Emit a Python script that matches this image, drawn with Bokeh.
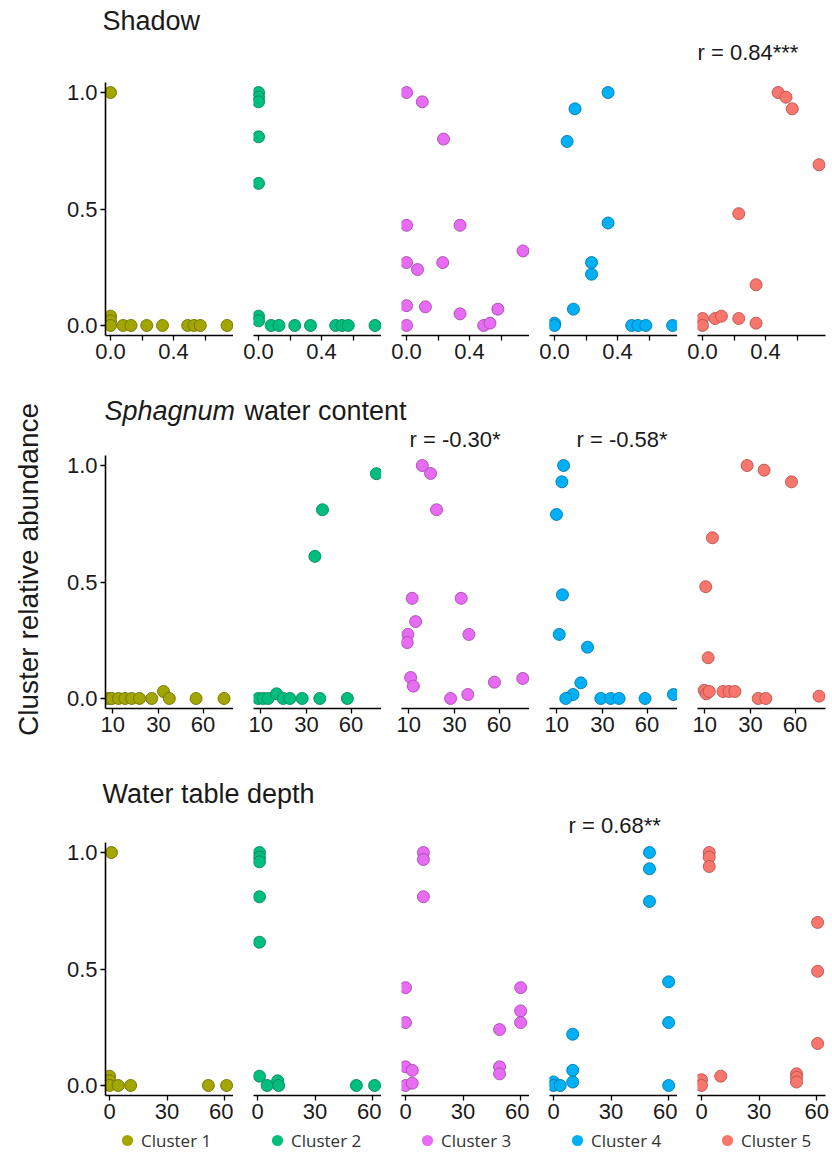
import numpy as np
from bokeh.plotting import figure
from bokeh.layouts import column, row
from bokeh.models import (ColumnDataSource, Range1d, FixedTicker,
                          CustomJSTickFormatter, Label, Legend, LegendItem)
from bokeh.embed import file_html
from bokeh.resources import INLINE

# ---------------- data ----------------
clusters = ["Cluster 1", "Cluster 2", "Cluster 3", "Cluster 4", "Cluster 5"]
y_ticks = [0.0, 0.5, 1.0]
y_tick_labels = ["0.0", "0.5", "1.0"]
shadow_ticks = [0.0, 0.2, 0.4, 0.6]
shadow_tick_labels = ["0.0", "", "0.4", ""]
water_ticks = [10, 30, 60]
water_tick_labels = ["10", "30", "60"]
wtd_ticks = [0, 30, 60]
wtd_tick_labels = ["0", "30", "60"]

# Shadow (fraction)
shadow_c1_x = [0.0, 0.0, 0.0, 0.0, 0.08, 0.13, 0.23, 0.33, 0.49, 0.53, 0.57, 0.74]
shadow_c1_y = [1.0, 0.04, 0.02, 0.0, 0.0, 0.0, 0.0, 0.0, 0.0, 0.0, 0.0, 0.0]
shadow_c2_x = [0.0, 0.0, 0.0, 0.0, 0.0, 0.0, 0.0, 0.08, 0.13, 0.23, 0.33, 0.49, 0.53, 0.57, 0.74]
shadow_c2_y = [1.0, 0.98, 0.96, 0.81, 0.61, 0.04, 0.02, 0.0, 0.0, 0.0, 0.0, 0.0, 0.0, 0.0, 0.0]
shadow_c3_x = [0.0, 0.10, 0.235, 0.0, 0.34, 0.74, 0.0, 0.07, 0.23, 0.0, 0.12, 0.34, 0.49, 0.53, 0.58, 0.0]
shadow_c3_y = [1.0, 0.96, 0.80, 0.43, 0.43, 0.32, 0.27, 0.24, 0.27, 0.085, 0.08, 0.05, 0.0, 0.01, 0.07, 0.0]
shadow_c4_x = [0.34, 0.13, 0.08, 0.34, 0.235, 0.235, 0.12, 0.0, 0.0, 0.49, 0.53, 0.58, 0.75]
shadow_c4_y = [1.0, 0.93, 0.79, 0.44, 0.27, 0.22, 0.07, 0.01, 0.0, 0.0, 0.0, 0.0, 0.0]
shadow_c5_x = [0.48, 0.53, 0.57, 0.74, 0.23, 0.34, 0.0, 0.0, 0.08, 0.12, 0.23, 0.34]
shadow_c5_y = [1.0, 0.98, 0.93, 0.69, 0.48, 0.175, 0.03, 0.0, 0.03, 0.04, 0.03, 0.01]

# Sphagnum water content (%)
water_c1_x = [8.7, 9.7, 11.9, 14.3, 17.0, 20.4, 26.4, 32.9, 36.4, 54.6, 77.6]
water_c1_y = [0.0, 0.0, 0.0, 0.0, 0.0, 0.0, 0.0, 0.03, 0.0, 0.0, 0.0]
water_c2_x = [9.2, 10.8, 12.5, 15.7, 18.5, 21.5, 27.7, 37.9, 57.1, 34.9, 39.6, 81.6]
water_c2_y = [0.0, 0.0, 0.0, 0.02, 0.0, 0.0, 0.0, 0.0, 0.0, 0.61, 0.81, 0.965]
water_c3_x = [14.8, 18.2, 20.9, 11.1, 33.9, 12.3, 9.7, 9.5, 38.6, 10.6, 11.5, 27.9, 37.9, 56.4, 80.1]
water_c3_y = [1.0, 0.966, 0.81, 0.43, 0.43, 0.33, 0.275, 0.24, 0.275, 0.09, 0.053, 0.0, 0.017, 0.07, 0.086]
water_c4_x = [12.3, 11.7, 9.9, 11.9, 10.8, 22.3, 19.2, 15.9, 13.1, 29.1, 34.8, 40.0, 58.4, 82.5]
water_c4_y = [1.0, 0.93, 0.79, 0.445, 0.275, 0.22, 0.067, 0.017, 0.0, 0.0, 0.0, 0.0, 0.0, 0.017]
water_c5_x = [28.2, 38.1, 57.2, 12.6, 10.3, 11.1, 9.8, 10.5, 11.5, 16.7, 19.3, 22.0, 34.5, 39.2, 80.3]
water_c5_y = [1.0, 0.98, 0.93, 0.69, 0.48, 0.175, 0.035, 0.02, 0.03, 0.03, 0.03, 0.03, 0.0, 0.0, 0.01]

# Water table depth (cm)
wtd_c1_x = [1.0, 0.0, 0.0, 0.0, 4.5, 11.0, 51.5, 61.0]
wtd_c1_y = [1.0, 0.04, 0.02, 0.0, 0.0, 0.0, 0.0, 0.0]
wtd_c2_x = [1.0, 1.0, 1.0, 1.0, 1.0, 1.0, 5.0, 10.5, 11.0, 51.5, 61.0]
wtd_c2_y = [1.0, 0.98, 0.96, 0.81, 0.615, 0.04, 0.0, 0.02, 0.0, 0.0, 0.0]
wtd_c3_x = [0.0, 0.0, 0.0, 3.5, 0.0, 3.5, 9.3, 9.3, 9.3, 49.0, 49.0, 49.0, 60.0, 60.0, 60.0]
wtd_c3_y = [0.42, 0.27, 0.08, 0.065, 0.0, 0.01, 1.0, 0.97, 0.81, 0.24, 0.08, 0.05, 0.42, 0.32, 0.27]
wtd_c4_x = [50.0, 50.0, 50.0, 60.0, 60.0, 60.0, 10.0, 10.0, 10.0, 0.0, 0.0, 3.5]
wtd_c4_y = [1.0, 0.93, 0.79, 0.445, 0.27, 0.0, 0.22, 0.065, 0.015, 0.015, 0.0, 0.0]
wtd_c5_x = [4.0, 4.0, 4.0, 60.5, 60.5, 60.5, 10.0, 0.0, 0.0, 49.5, 49.5, 49.5]
wtd_c5_y = [1.0, 0.98, 0.94, 0.70, 0.49, 0.18, 0.04, 0.025, 0.0, 0.05, 0.035, 0.015]

# correlation annotations
corr_text = ["r = 0.84***", "r = -0.30*", "r = -0.58*", "r = 0.68**"]

# ---------------- style / layout ----------------
colors = ["#A3A500", "#00BF7D", "#E76BF3", "#00B0F6", "#F8766D"]
edges = ["#6f7000", "#00855a", "#a54cae", "#0079aa", "#b5524c"]
FONT = "Liberation Sans"
TXT = "#1a1a1a"
LEFT = 45
FRAME_W, FRAME_H = 128, 253
GAP = 20
YR = (-0.043, 1.043)
TOTAL_W = 832 - LEFT


def make_formatter(tick_values, tick_texts):
    return CustomJSTickFormatter(
        args=dict(tvals=[float(t) for t in tick_values], ttexts=list(tick_texts)),
        code="for (let i = 0; i < tvals.length; i++) {"
             " if (Math.abs(tvals[i] - tick) < 1e-6) return ttexts[i]; }"
             " return '';")


def style_axis(ax, tick_values, tick_texts):
    ax.ticker = FixedTicker(ticks=[float(t) for t in tick_values])
    ax.formatter = make_formatter(tick_values, tick_texts)
    ax.axis_line_color = "black"
    ax.axis_line_width = 1.6
    ax.major_tick_line_color = "black"
    ax.major_tick_line_width = 1.3
    ax.major_tick_out = 5
    ax.major_tick_in = 0
    ax.minor_tick_line_color = None
    ax.major_label_text_font = FONT
    ax.major_label_text_font_size = "22px"
    ax.major_label_text_color = TXT
    ax.major_label_standoff = 3


def panel(x, y, ci, xr, tick_values, tick_texts, top, bottom):
    first = ci == 0
    p = figure(output_backend="svg", toolbar_location=None,
               frame_width=FRAME_W, frame_height=FRAME_H,
               x_range=Range1d(*xr), y_range=Range1d(*YR),
               min_border_left=60 if first else GAP,
               min_border_right=7 if ci == 4 else 0,
               min_border_top=top, min_border_bottom=bottom,
               y_axis_location="left" if first else None)
    p.outline_line_color = None
    p.grid.visible = False
    src = ColumnDataSource(dict(x=list(x), y=list(y)))
    p.scatter("x", "y", source=src, size=12, fill_color=colors[ci],
              line_color=edges[ci], line_width=0.9)
    style_axis(p.xaxis[0], tick_values, tick_texts)
    if first:
        style_axis(p.yaxis[0], y_ticks, y_tick_labels)
    return p


def header(height, top_abs, items):
    p = figure(output_backend="svg", toolbar_location=None,
               width=TOTAL_W, height=height,
               x_range=Range1d(0, TOTAL_W), y_range=Range1d(0, height),
               x_axis_location=None, y_axis_location=None, min_border=0)
    p.outline_line_color = None
    p.grid.visible = False
    for text, xabs, ymid, style, size in items:
        p.add_layout(Label(x=xabs - LEFT, y=height - (ymid - top_abs), text=text,
                           text_font=FONT, text_font_size=size,
                           text_font_style=style, text_color=TXT,
                           text_baseline="middle", text_align="left"))
    return p


shadow_x = [shadow_c1_x, shadow_c2_x, shadow_c3_x, shadow_c4_x, shadow_c5_x]
shadow_y = [shadow_c1_y, shadow_c2_y, shadow_c3_y, shadow_c4_y, shadow_c5_y]
water_x = [water_c1_x, water_c2_x, water_c3_x, water_c4_x, water_c5_x]
water_y = [water_c1_y, water_c2_y, water_c3_y, water_c4_y, water_c5_y]
wtd_x = [wtd_c1_x, wtd_c2_x, wtd_c3_x, wtd_c4_x, wtd_c5_x]
wtd_y = [wtd_c1_y, wtd_c2_y, wtd_c3_y, wtd_c4_y, wtd_c5_y]

# page: h1 0-70 | row1 70-380 | h2 380-452 | row2 452-753 | h3 753-838 | row3 838-1128 | legend
row1 = [panel(shadow_x[i], shadow_y[i], i, (-0.032, 0.781),
              shadow_ticks, shadow_tick_labels, 12, 45) for i in range(5)]
row2 = [panel(np.sqrt(water_x[i]), water_y[i], i, (2.792, 9.29),
              np.sqrt(water_ticks), water_tick_labels, 3, 45) for i in range(5)]
row3 = [panel(wtd_x[i], wtd_y[i], i, (-2.1, 64.6),
              wtd_ticks, wtd_tick_labels, 4, 33) for i in range(5)]

h1 = header(70, 0, [("Shadow", 102, 20, "normal", "27px"),
                    (corr_text[0], 697, 52, "normal", "22px")])
h2 = header(72, 380, [("Sphagnum", 104, 410, "italic", "27px"),
                      ("water content", 244, 410, "normal", "27px"),
                      (corr_text[1], 409, 439, "normal", "22px"),
                      (corr_text[2], 576, 439, "normal", "22px")])
h3 = header(85, 753, [("Water table depth", 102, 793, "normal", "27px"),
                      (corr_text[3], 568, 825, "normal", "22px")])

# legend strip (its markers sit outside the visible range; only the legend shows)
lf = figure(output_backend="svg", toolbar_location=None, width=TOTAL_W, height=24,
            x_range=Range1d(0, 1), y_range=Range1d(0, 1),
            x_axis_location=None, y_axis_location=None, min_border=0)
lf.outline_line_color = None
lf.grid.visible = False
items = []
for ci in range(5):
    r = lf.scatter(x=[-5.0], y=[-5.0], size=11, fill_color=colors[ci], line_color=None)
    items.append(LegendItem(label=clusters[ci], renderers=[r]))
leg = Legend(items=items, orientation="horizontal", location=(113 - LEFT, -2),
             glyph_width=28, glyph_height=28, label_standoff=0, label_width=116,
             spacing=6, padding=0, margin=0, border_line_color=None,
             background_fill_alpha=0, label_text_font="Open Sans",
             label_text_font_size="17px", label_text_color="#333333")
lf.add_layout(leg)

# y label strip
lab = figure(output_backend="svg", toolbar_location=None, width=LEFT, height=1152,
             x_range=Range1d(0, LEFT), y_range=Range1d(0, 1152),
             x_axis_location=None, y_axis_location=None, min_border=0)
lab.outline_line_color = None
lab.grid.visible = False
lab.add_layout(Label(x=28, y=1152 - 569, text="Cluster relative abundance",
                     angle=np.pi / 2, text_align="center", text_baseline="middle",
                     text_font=FONT, text_font_size="28px", text_color=TXT))

layout = row(lab, column(h1, row(*row1), h2, row(*row2), h3, row(*row3), lf))

open("out.html", "w").write(file_html(layout, INLINE))
